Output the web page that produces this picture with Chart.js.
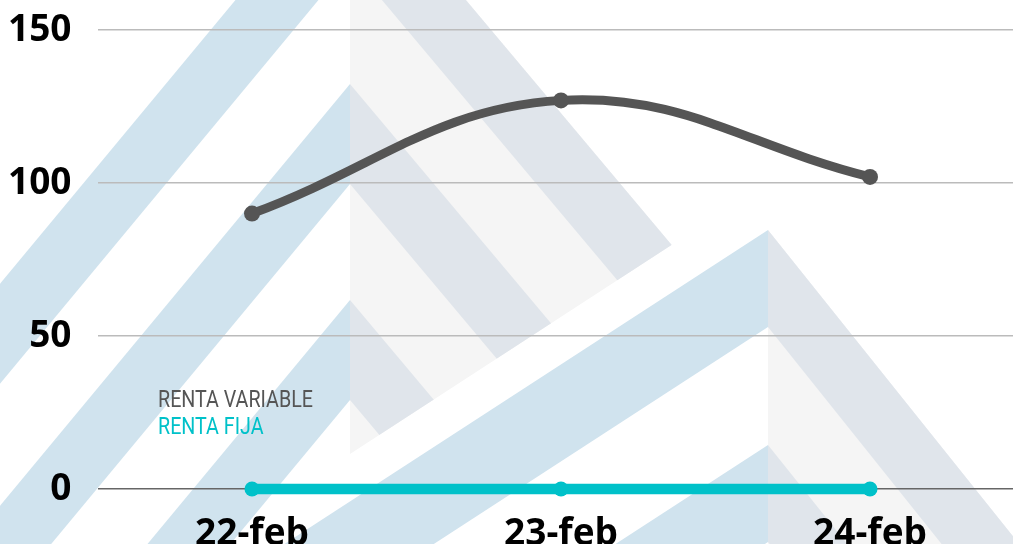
<!DOCTYPE html>
<html>
<head>
<meta charset="utf-8">
<script src="https://cdn.jsdelivr.net/npm/chart.js@4"></script>
<style>
    html, body { margin: 0; padding: 0; background: #fff; overflow: hidden; }
    #wrap { position: relative; width: 1025px; height: 544px; }
</style>
</head>
<body>
<div id="wrap"><canvas id="myChart"></canvas></div>
<script>
// dades del grafic
const dies = ['22-feb', '23-feb', '24-feb'];
const rentaVariable = [90, 127, 102];
const rentaFija = [0, 0, 0];
const ticksY = [0, 50, 100, 150];

const grisFosc = '#555555';
const turquesa = '#00c1c9';

// marca d'aigua del fons (dos logos de xebrons)
const logos = [
    { cx: 350, apexes: [-138, 84, 300, 516], gruix: 100, sl: 0.83, sr: 0.84, tall: { x: 667, y: 248, m: -0.65 } },
    { cx: 768, apexes: [230, 445], gruix: 97, sl: 1.54, sr: 0.8, tall: null }
];

const drawArm = (ctx, cx, apex, gruix, k, side) => {
    const dy = 1200;
    ctx.beginPath();
    ctx.moveTo(cx, apex);
    ctx.lineTo(cx + side * k * dy, apex + dy);
    ctx.lineTo(cx + side * k * dy, apex + gruix + dy);
    ctx.lineTo(cx, apex + gruix);
    ctx.closePath();
    ctx.fill();
};

const clipRightHalf = (ctx, logo) => {
    ctx.beginPath();
    if (logo.tall) {
        const t = logo.tall;
        const yAt = (x) => t.y + t.m * (x - t.x);
        ctx.moveTo(logo.cx, -500);
        ctx.lineTo(2000, -500);
        ctx.lineTo(2000, yAt(2000));
        ctx.lineTo(logo.cx, yAt(logo.cx));
    } else {
        ctx.rect(logo.cx, -500, 2000, 2000);
    }
    ctx.closePath();
    ctx.clip();
};

const fonsPlugin = {
    id: 'fons',
    beforeDraw: (chart) => {
        const ctx = chart.ctx;
        ctx.save();
        ctx.fillStyle = '#ffffff';
        ctx.fillRect(0, 0, chart.width, chart.height);
        logos.forEach((logo) => {
            // meitat dreta ombrejada
            ctx.save();
            clipRightHalf(ctx, logo);
            ctx.fillStyle = '#f5f5f5';
            const a0 = logo.apexes[0];
            ctx.beginPath();
            ctx.moveTo(logo.cx, a0);
            ctx.lineTo(logo.cx + logo.sr * 1500, a0 + 1500);
            ctx.lineTo(logo.cx, a0 + 1500);
            ctx.closePath();
            ctx.fill();
            ctx.fillStyle = '#e0e5eb';
            logo.apexes.forEach((a) => drawArm(ctx, logo.cx, a, logo.gruix, logo.sr, 1));
            ctx.restore();
            // braços esquerres blaus
            ctx.save();
            ctx.beginPath();
            ctx.rect(-500, -500, logo.cx + 500, 2000);
            ctx.clip();
            ctx.fillStyle = '#d0e3ee';
            logo.apexes.forEach((a) => drawArm(ctx, logo.cx, a, logo.gruix, logo.sl, -1));
            ctx.restore();
        });
        ctx.restore();
    }
};

// llegenda en text pla, a sobre del grafic
const llegendaPlugin = {
    id: 'llegenda',
    afterDatasetsDraw: (chart) => {
        const ctx = chart.ctx;
        ctx.save();
        ctx.font = '400 24px Roboto';
        ctx.textBaseline = 'alphabetic';
        chart.data.datasets.forEach((ds, i) => {
            ctx.save();
            ctx.translate(158, 407 + i * 27);
            ctx.scale(0.82, 1);
            ctx.fillStyle = ds.borderColor;
            ctx.fillText(ds.label, 0, 0);
            ctx.restore();
        });
        ctx.restore();
    }
};

const ctx = document.getElementById('myChart').getContext('2d');
const chart = new Chart(ctx, {
    type: 'line',
    data: {
        labels: dies,
        datasets: [{
            label: 'RENTA VARIABLE',
            data: rentaVariable,
            borderColor: grisFosc,
            backgroundColor: grisFosc,
            borderWidth: 9,
            pointRadius: 8,
            pointBorderWidth: 0,
            tension: 0.4,
            fill: false,
            clip: false
        }, {
            label: 'RENTA FIJA',
            data: rentaFija,
            borderColor: turquesa,
            backgroundColor: turquesa,
            borderWidth: 10.5,
            pointRadius: 7.5,
            pointBorderWidth: 0,
            tension: 0.4,
            fill: false,
            clip: false
        }]
    },
    options: {
        responsive: true,
        maintainAspectRatio: false,
        animation: false,
        // el grafic continua una mica mes enlla de la vora dreta (la finestra el talla)
        layout: { autoPadding: false, padding: { top: 30, left: 0, right: 0.5, bottom: 0 } },
        plugins: {
            legend: { display: false },
            tooltip: { enabled: false }
        },
        scales: {
            x: {
                offset: true,
                grid: { display: false, drawTicks: false },
                border: { display: false },
                ticks: {
                    color: '#000',
                    padding: 23,
                    font: { family: 'Open Sans', size: 37, weight: 'bold' }
                },
                afterFit: (scale) => {
                    scale.height = 55;
                    scale.paddingLeft = 0;
                    scale.paddingRight = 0;
                }
            },
            y: {
                min: 0,
                max: 150,
                afterBuildTicks: (scale) => { scale.ticks = ticksY.map((v) => ({ value: v })); },
                grid: {
                    drawTicks: false,
                    lineWidth: 1.5,
                    color: (c) => (c.tick && c.tick.value === 0 ? '#666666' : '#bbbbbb')
                },
                border: { display: false },
                ticks: {
                    color: '#000',
                    padding: 26,
                    font: { family: 'Open Sans', size: 37, weight: 'bold' }
                },
                afterFit: (scale) => {
                    scale.width = 97.5;
                    scale.paddingTop = 0;
                    scale.paddingBottom = 0;
                }
            }
        }
    },
    plugins: [fonsPlugin, llegendaPlugin]
});
</script>
</body>
</html>
